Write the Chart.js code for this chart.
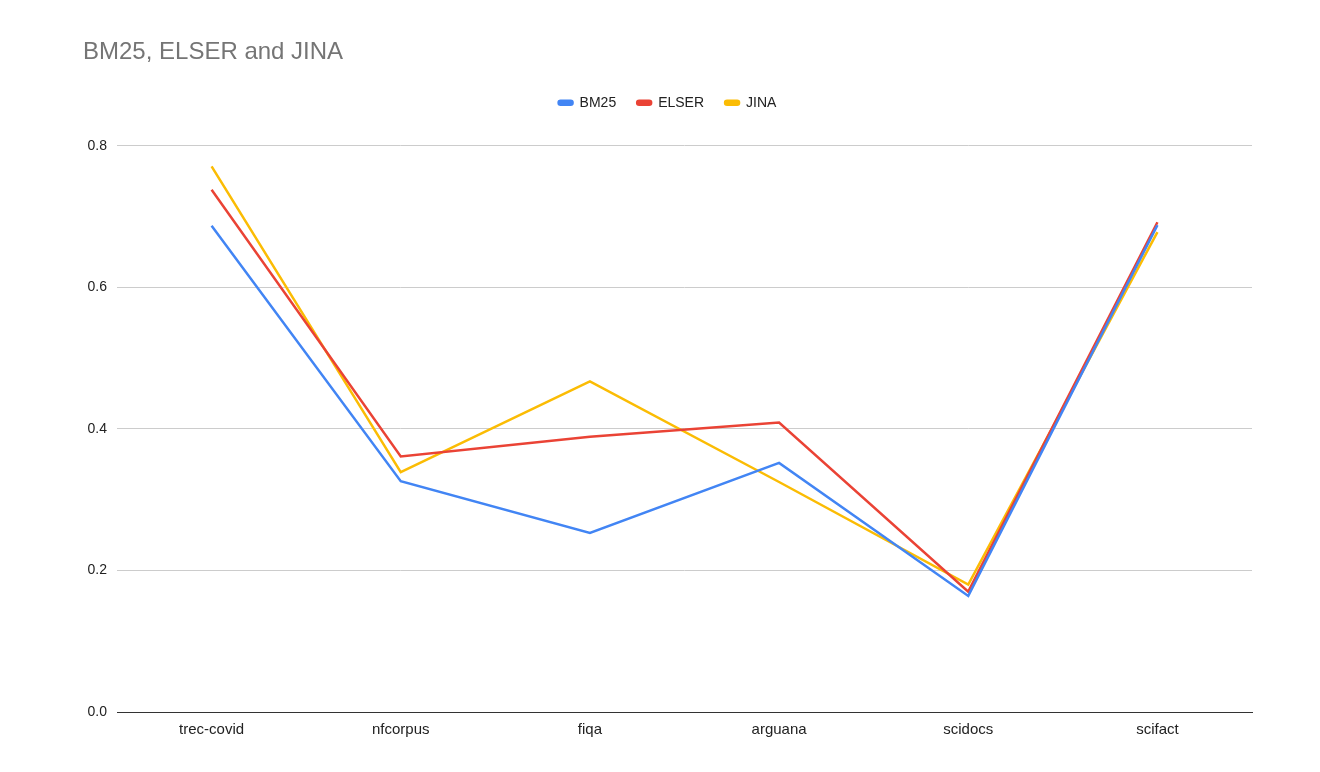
<!DOCTYPE html>
<html>
<head>
<meta charset="utf-8">
<script src="https://cdn.jsdelivr.net/npm/chart.js@4/dist/chart.umd.min.js"></script>
<style>
  html, body { margin: 0; padding: 0; background: #fff; }
  #wrap { width: 1320px; height: 772px; }
</style>
</head>
<body>
<div id="wrap"><canvas id="myChart" width="1320" height="772"></canvas></div>
<script>
var categories = ["trec-covid", "nfcorpus", "fiqa", "arguana", "scidocs", "scifact"];
var bm25 = [0.687, 0.326, 0.253, 0.352, 0.164, 0.688];
var elser = [0.738, 0.361, 0.389, 0.409, 0.170, 0.692];
var jina = [0.771, 0.339, 0.467, 0.325, 0.180, 0.678];
var yTicks = [0, 0.2, 0.4, 0.6, 0.8];

var FONT = '"Liberation Sans", Arial, sans-serif';

// extra room under the legend
var legendGap = {
    id: 'legendGap',
    beforeInit: function (chart) {
        var fit = chart.legend.fit;
        chart.legend.fit = function () {
            fit.bind(chart.legend)();
            this.height += 26;
        };
    }
};

var ctx = document.getElementById('myChart').getContext('2d');
var myChart = new Chart(ctx, {
    type: 'line',
    data: {
        labels: categories,
        datasets: [
            {
                label: "BM25",
                data: bm25,
                borderColor: "#4285f4",
                backgroundColor: "#4285f4",
                borderWidth: 2.5,
            },
            {
                label: "ELSER",
                data: elser,
                borderColor: "#ea4335",
                backgroundColor: "#ea4335",
                borderWidth: 2.5,
            },
            {
                label: "JINA",
                data: jina,
                borderColor: "#fbbc04",
                backgroundColor: "#fbbc04",
                borderWidth: 2.5,
            }
        ]
    },
    plugins: [legendGap],
    options: {
        responsive: false,
        animation: false,
        elements: {
            point: { radius: 0, hoverRadius: 0 },
            line: { tension: 0 }
        },
        layout: {
            padding: { left: 83, right: 68, top: 38, bottom: 32 }
        },
        scales: {
            x: {
                offset: true,
                grid: { display: false },
                border: { display: true, color: '#333333', width: 1 },
                ticks: {
                    color: '#222222',
                    font: { family: FONT, size: 15 },
                    padding: 1,
                    maxRotation: 0
                }
            },
            y: {
                min: 0,
                max: 0.8,
                afterBuildTicks: function (axis) {
                    axis.ticks = yTicks.map(function (v) { return { value: v }; });
                },
                afterFit: function (axis) { axis.width = 34; },
                grid: {
                    color: function (c) { return c.tick && c.tick.value === 0 ? '#333333' : '#cccccc'; },
                    drawTicks: false
                },
                border: { display: false },
                ticks: {
                    color: '#222222',
                    font: { family: FONT, size: 14 },
                    padding: 10,
                    callback: function (v) { return Number(v).toFixed(1); }
                }
            }
        },
        plugins: {
            title: {
                display: true,
                text: 'BM25, ELSER and JINA',
                align: 'start',
                color: '#757575',
                font: { family: FONT, size: 24, weight: 'normal' },
                padding: { top: 0, bottom: 8 }
            },
            legend: {
                position: 'top',
                labels: {
                    color: '#222222',
                    font: { family: FONT, size: 14 },
                    boxWidth: 14,
                    boxHeight: 4,
                    useBorderRadius: true,
                    borderRadius: 2,
                    padding: 21
                }
            },
            tooltip: { enabled: false }
        }
    }
});
</script>
</body>
</html>
